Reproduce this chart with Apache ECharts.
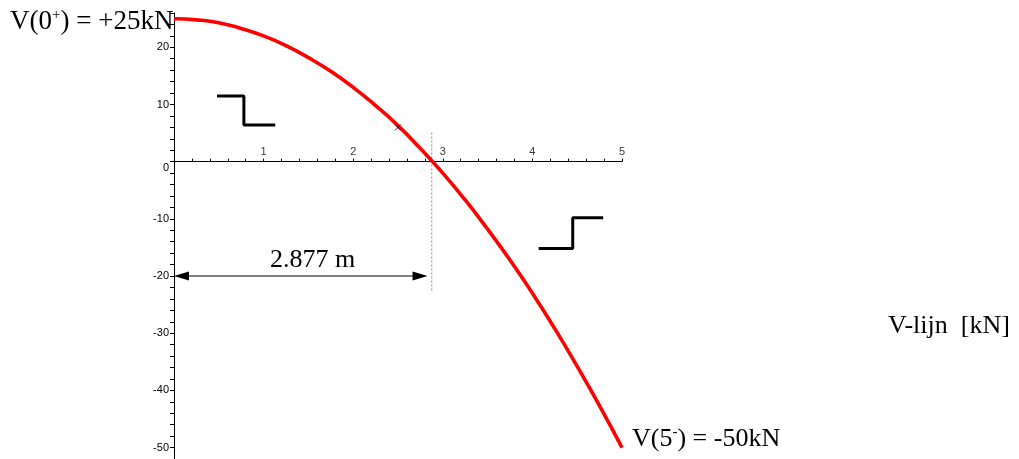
<!DOCTYPE html>
<html>
<head>
<meta charset="utf-8">
<script src="https://cdn.jsdelivr.net/npm/echarts@6/dist/echarts.min.js"></script>
<style>
  html, body { margin: 0; padding: 0; background: #fff; }
  #chart { width: 1019px; height: 459px; }
</style>
</head>
<body>
<div id="chart"></div>
<script>
// Shear force V(x) along the beam [m, kN]
const xPos = [0, 0.25, 0.5, 0.75, 1, 1.25, 1.5, 1.75, 2, 2.25, 2.5, 2.75, 3, 3.25, 3.5, 3.75, 4, 4.25, 4.5, 4.75, 5];
const shear = [25, 24.8, 24.3, 23.3, 22, 20.3, 18.2, 15.8, 13, 9.8, 6.3, 2.3, -2, -6.7, -11.8, -17.2, -23, -29.2, -35.8, -42.7, -50];

// Zero crossing and its dimension line
const zeroX = 2.877;
const dimLevel = -20;
const dimEnd = 2.83;
const dashTop = 5.1;
const dashBottom = -22.8;

// Sign glyphs (step symbols) and the marker on the curve
const stepPositive = [[0.48, 11.5], [0.78, 11.5], [0.78, 6.4], [1.13, 6.4]];
const stepNegative = [[4.07, -15.2], [4.45, -15.2], [4.45, -9.8], [4.79, -9.8]];
const crossMark = [[2.5, 6.0]];

// Tick labels
const xLabelValues = [1, 2, 3, 4, 5];
const yLabelValues = [-50, -40, -30, -20, -10, 0, 10, 20];

const serif = '"Liberation Serif", "Times New Roman", serif';
const sans = '"Liberation Sans", Arial, sans-serif';

const chart = echarts.init(document.getElementById('chart'), null, { renderer: 'canvas' });

const near = (v, list) => list.some(t => Math.abs(v - t) < 1e-6);

chart.setOption({
  animation: false,
  backgroundColor: '#fff',
  grid: { left: 174, top: 13, width: 448, height: 448.5, containLabel: false },
  xAxis: {
    type: 'value', min: 0, max: 5, interval: 0.2,
    axisLine: { show: true, onZero: true, lineStyle: { color: '#000', width: 1 } },
    axisTick: { show: true, inside: true, length: 3, lineStyle: { color: '#000' } },
    axisLabel: { show: false },
    splitLine: { show: false }
  },
  yAxis: {
    type: 'value', min: -52, max: 26, interval: 2,
    axisLine: { show: true, onZero: true, lineStyle: { color: '#000', width: 1 } },
    axisTick: { show: true, inside: false, length: 4, lineStyle: { color: '#000' } },
    axisLabel: {
      show: true, margin: 5, color: '#000', fontFamily: sans, fontSize: 11,
      formatter: v => {
        if (!near(v, yLabelValues)) return '';
        const r = Math.round(v);
        return r === 0 ? '{z|0}' : String(r);
      },
      rich: { z: { fontFamily: sans, fontSize: 11, color: '#000', padding: [12, 0, 0, 0] } }
    },
    splitLine: { show: false }
  },
  series: [
    {
      name: 'V',
      type: 'line',
      data: xPos.map((x, i) => [x, shear[i]]),
      smooth: true,
      showSymbol: false,
      symbol: 'none',
      lineStyle: { color: '#ff0000', width: 3.6 },
      z: 5
    },
    {
      // x tick labels sit just above the zero line
      name: 'xLabels',
      type: 'scatter',
      data: xLabelValues.map(v => [v, 0]),
      symbol: 'circle', symbolSize: 0,
      label: {
        show: true, position: 'top', distance: 4,
        color: '#000', fontFamily: sans, fontSize: 11,
        formatter: p => String(p.value[0])
      },
      silent: true
    },
    {
      name: 'stepPos',
      type: 'line',
      data: stepPositive,
      showSymbol: false, symbol: 'none',
      lineStyle: { color: '#000', width: 3 }
    },
    {
      name: 'stepNeg',
      type: 'line',
      data: stepNegative,
      showSymbol: false, symbol: 'none',
      lineStyle: { color: '#000', width: 3 }
    },
    {
      name: 'zeroLine',
      type: 'line',
      data: [[zeroX, dashTop], [zeroX, dashBottom]],
      showSymbol: false, symbol: 'none',
      lineStyle: { color: '#888', width: 1, type: [2, 2] },
      z: 3
    },
    {
      name: 'dimension',
      type: 'custom',
      data: [[0, dimLevel, dimEnd]],
      renderItem: (params, api) => {
        const a = api.coord([api.value(0), api.value(1)]);
        const b = api.coord([api.value(2), api.value(1)]);
        const L = 15, H = 4.5;
        return {
          type: 'group',
          children: [
            { type: 'line', shape: { x1: a[0] + 4, y1: a[1], x2: b[0] - 4, y2: b[1] },
              style: { stroke: '#808080', lineWidth: 2 } },
            { type: 'polygon', shape: { points: [[a[0], a[1]], [a[0] + L, a[1] - H], [a[0] + L, a[1] + H]] },
              style: { fill: '#000' } },
            { type: 'polygon', shape: { points: [[b[0], b[1]], [b[0] - L, b[1] - H], [b[0] - L, b[1] + H]] },
              style: { fill: '#000' } }
          ]
        };
      },
      z: 4
    },
    {
      name: 'mark',
      type: 'scatter',
      data: crossMark,
      symbol: 'path://M0,0L10,10M10,0L0,10',
      symbolSize: 6,
      itemStyle: { color: 'none', borderColor: '#000', borderWidth: 1 },
      z: 6
    }
  ],
  graphic: [
    {
      type: 'text', left: 10, top: 8,
      style: {
        text: '{a|V(0}{s|+}{a|) = +25kN}',
        rich: {
          a: { fontFamily: serif, fontSize: 27, color: '#000', lineHeight: 28 },
          s: { fontFamily: serif, fontSize: 15, color: '#000', verticalAlign: 'top', lineHeight: 15 }
        }
      }
    },
    {
      type: 'text', left: 632, top: 425,
      style: {
        text: '{a|V(5}{s|-}{a|) = -50kN}',
        rich: {
          a: { fontFamily: serif, fontSize: 26, color: '#000', lineHeight: 28 },
          s: { fontFamily: serif, fontSize: 15, color: '#000', verticalAlign: 'top', lineHeight: 15 }
        }
      }
    },
    {
      type: 'text', left: 888, top: 313,
      style: { text: 'V-lijn  [kN]', fontFamily: serif, fontSize: 26, fill: '#000' }
    },
    {
      type: 'text', left: 270, top: 247,
      style: { text: '2.877 m', fontFamily: serif, fontSize: 26, fill: '#000' }
    }
  ]
});
</script>
</body>
</html>
